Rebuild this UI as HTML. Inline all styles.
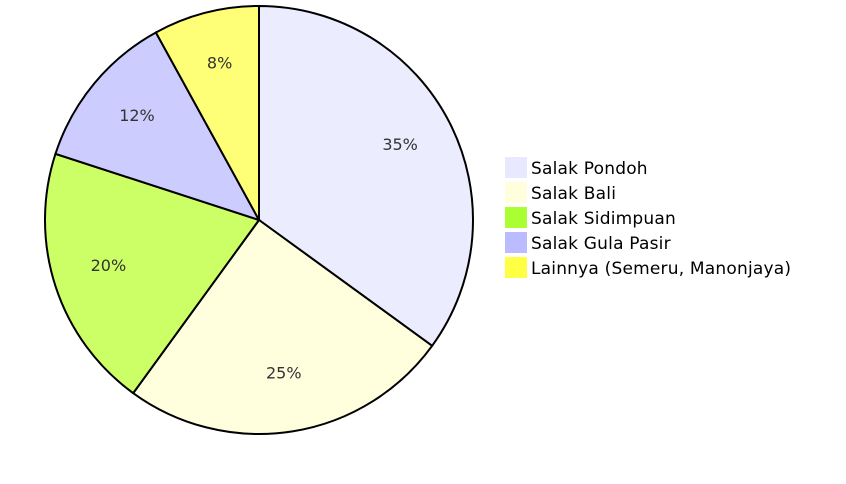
<!DOCTYPE html>
<html><head><meta charset="utf-8"><style>
body{margin:0;background:#fff;}
svg text{font-family:"DejaVu Sans","Liberation Sans",sans-serif;}
</style></head><body>
<svg id="chart" width="846" height="479">
<g id="slices"></g>
<g id="labels"></g>
<g id="legend"></g>
</svg>
<script>
const categories=["Salak Pondoh","Salak Bali","Salak Sidimpuan","Salak Gula Pasir","Lainnya (Semeru, Manonjaya)"];
const values=[35,25,20,12,8];
const pieColors=["#ECECFF","#FFFFDE","#CCFF66","#CCCCFF","#FFFF77"];
const legendColors=["#E8E8FF","#FFFFDD","#AAFF33","#BBBBFF","#FFFF44"];
const NS="http://www.w3.org/2000/svg";
const cx=259,cy=220,r=214;
const total=values.reduce((a,b)=>a+b,0);
function pt(a,rr){return [cx+rr*Math.sin(a),cy-rr*Math.cos(a)];}
let a0=0;
const gs=document.getElementById('slices'),gl=document.getElementById('labels'),gg=document.getElementById('legend');
values.forEach((v,i)=>{
  const a1=a0+v/total*2*Math.PI;
  const p0=pt(a0,r),p1=pt(a1,r);
  const large=(a1-a0)>Math.PI?1:0;
  const p=document.createElementNS(NS,'path');
  p.setAttribute('d',`M${cx},${cy}L${p0[0]},${p0[1]}A${r},${r} 0 ${large} 1 ${p1[0]},${p1[1]}Z`);
  p.setAttribute('fill',pieColors[i]);p.setAttribute('stroke','#000');p.setAttribute('stroke-width','2');
  
  
  gs.appendChild(p);
  const m=(a0+a1)/2,lp=pt(m,r*0.74);
  const t=document.createElementNS(NS,'text');
  t.setAttribute('x',lp[0]);t.setAttribute('y',lp[1]+2);t.setAttribute('text-anchor','middle');
  t.setAttribute('font-size','16');t.setAttribute('fill','#333');
  t.textContent=v+'%';
  
  
  gl.appendChild(t);
  a0=a1;
});
categories.forEach((c,i)=>{
  const y=157+i*25;
  const s=document.createElementNS(NS,'rect');
  s.setAttribute('x',505);s.setAttribute('y',y);s.setAttribute('width',22);s.setAttribute('height',21);
  s.setAttribute('fill',legendColors[i]);
  
  
  gg.appendChild(s);
  const t=document.createElementNS(NS,'text');
  t.setAttribute('x',531);t.setAttribute('y',y+17);t.setAttribute('font-size','17');t.setAttribute('fill','#000');
  t.setAttribute('letter-spacing','0.2');
  t.textContent=c;
  
  
  gg.appendChild(t);
});
</script>
</body></html>
